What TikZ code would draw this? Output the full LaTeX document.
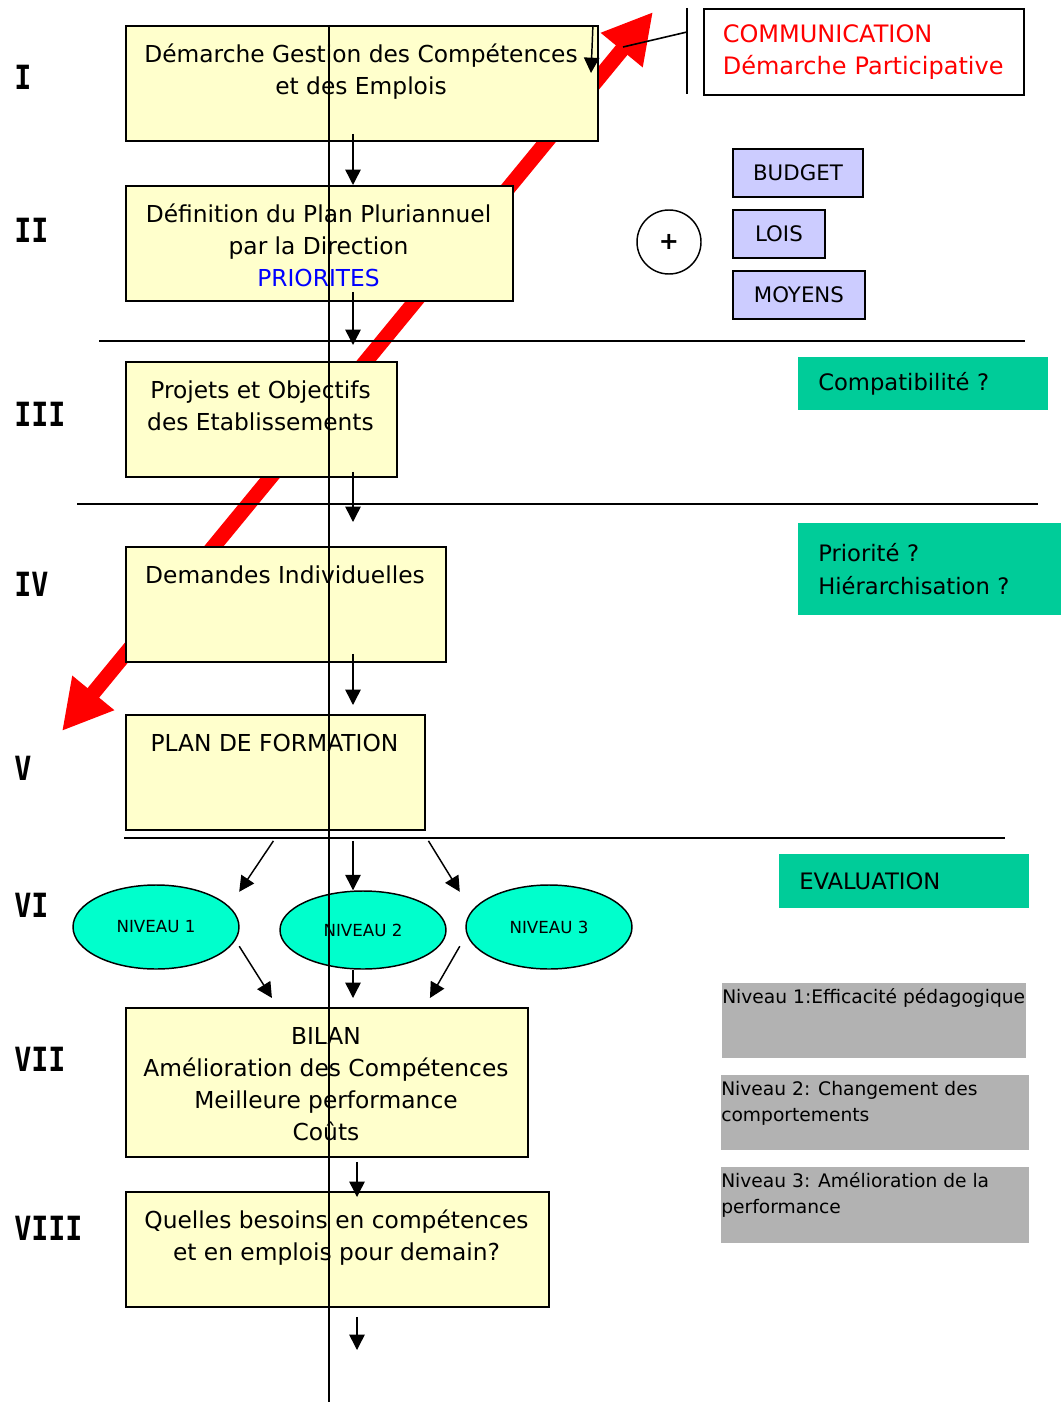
\documentclass[tikz,border=0pt]{standalone}
\usepackage{fontspec}
\setmainfont{DejaVu Sans}
\newfontfamily\numfont{DejaVu Sans Mono}[FakeStretch=0.85]
\usepackage{xcolor}
\usetikzlibrary{arrows.meta,shapes.geometric,calc}

\definecolor{boxyellow}{HTML}{FFFFCC}
\definecolor{lavbox}{HTML}{CCCCFF}
\definecolor{nivaqua}{HTML}{00FFCC}
\definecolor{evalgreen}{HTML}{00CC99}
\definecolor{evalgray}{HTML}{B2B2B2}

\newdimen\upx
\upx=0.75pt
\newcommand{\tp}{\rule{0pt}{17pt}}
\newcommand{\gp}{\rule{0pt}{13.5pt}}

\begin{document}
\begin{tikzpicture}[x=0.75pt, y=-0.75pt,
        ybox/.style={draw=black, fill=boxyellow, line width=1.4pt, anchor=north west, inner sep=0pt},
        ytxt/.style={font=\fontsize{17.5}{24}\selectfont, align=center, inner sep=0pt, anchor=north},
        num/.style={font=\numfont\fontsize{25}{28}\selectfont\bfseries, anchor=west, inner sep=0pt},
        niv/.style={ellipse, draw=black, line width=1.1pt, fill=nivaqua, minimum width=166\upx, minimum height=84\upx, inner sep=0pt, font=\fontsize{12.5}{15}\selectfont},
        lav/.style={draw=black, fill=lavbox, line width=1.4pt, anchor=north west, inner sep=0pt, minimum height=48\upx, font=\fontsize{16}{19}\selectfont},
        gbox/.style={fill=evalgreen, anchor=north west, align=left, inner xsep=20\upx, inner ysep=0pt, font=\fontsize{17}{24.5}\selectfont},
        grey/.style={fill=evalgray, anchor=north west, inner sep=0pt, minimum height=75\upx},
        gtxt/.style={anchor=north west, align=left, inner sep=0pt, font=\fontsize{14}{19.5}\selectfont},
        arr/.style={-{Triangle[length=11.5pt, width=11.5pt]}, line width=1.1pt},
        redarr/.style={{Triangle[length=37pt, width=38pt]}-{Triangle[length=37pt, width=38pt]}, red, line width=11.25pt},
        sep/.style={line width=1.3pt}]
        \useasboundingbox (0,0) rectangle (1061,1402);

        % red arrow behind the boxes
        \coordinate (rlow) at (62,731);
        \coordinate (rhigh) at (653,12);
        \draw[redarr] (rlow) -- (rhigh);

        % separators
        \draw[sep] (99,341) -- (1025,341);
        \draw[sep] (77,504) -- (1038,504);
        \draw[sep] (124,838) -- (1005,838);

        % levels
        \node[num] (n1) at (14,77) {I};
        \node[num] (n2) at (14,230) {II};
        \node[num] (n3) at (14,414) {III};
        \node[num] (n4) at (14,584) {IV};
        \node[num] (n5) at (14,768) {V};
        \node[num] (n6) at (14,905) {VI};
        \node[num] (n7) at (14,1059) {VII};
        \node[num] (n8) at (14,1228) {VIII};

        % main boxes
        \node[ybox, minimum width=472\upx, minimum height=115\upx] (gdc) at (125,25) {};
        \node[ytxt] (gdct) at (361,40) {\tp Démarche Gestion des Compétences\\et des Emplois};
        \node[ybox, minimum width=387\upx, minimum height=115\upx] (def) at (125,185) {};
        \node[ytxt] (deft) at (318.5,200) {\tp Définition du Plan Pluriannuel\\par la Direction\\\textcolor{blue}{PRIORITES}};
        \node[ybox, minimum width=271\upx, minimum height=115\upx] (proj) at (125,361) {};
        \node[ytxt] (projt) at (260.5,376) {\tp Projets et Objectifs\\des Etablissements};
        \node[ybox, minimum width=320\upx, minimum height=115\upx] (dem) at (125,546) {};
        \node[ytxt] (demt) at (285,561) {\tp Demandes Individuelles};
        \node[ybox, minimum width=299\upx, minimum height=115\upx] (form) at (125,714) {};
        \node[ytxt] (formt) at (274.5,729) {\tp PLAN DE FORMATION};
        \node[ybox, minimum width=402\upx, minimum height=149\upx] (bilan) at (125,1007) {};
        \node[ytxt] (bilant) at (326,1022) {\tp BILAN\\Amélioration des Compétences\\Meilleure performance\\Coûts};
        \node[ybox, minimum width=423\upx, minimum height=115\upx] (bes) at (125,1191) {};
        \node[ytxt] (best) at (336.5,1206) {\tp Quelles besoins en compétences\\et en emplois pour demain?};

        % evaluation levels
        \node[niv] (niv1) at (156,927) {NIVEAU 1};
        \node[niv, minimum height=78\upx] (niv2) at (363,930) {NIVEAU 2};
        \node[niv] (niv3) at (549,927) {NIVEAU 3};

        % right column
        \node[draw=black, line width=1.2pt, fill=white, anchor=north west, align=left, text=red,
              text width=282\upx, inner xsep=19\upx, inner ysep=0pt, minimum height=86\upx,
              font=\fontsize{18}{24}\selectfont] (comm) at (703,8) {COMMUNICATION\\Démarche Participative};
        \node[lav, minimum width=130\upx] (budget) at (732,148) {BUDGET};
        \node[lav, minimum width=92\upx] (lois) at (732,209) {LOIS};
        \node[lav, minimum width=132\upx] (moyens) at (732,270) {MOYENS};
        \node[circle, draw=black, line width=1.1pt, minimum size=64\upx, inner sep=0pt,
              font=\fontsize{18}{20}\selectfont\bfseries] (plus) at (669,242) {+};
        \node[gbox, text width=210\upx, minimum height=53\upx] (compat) at (798,357) {Compatibilité ?};
        \node[gbox, text width=223\upx, minimum height=92\upx] (prio) at (798,523) {Priorité ?\\Hiérarchisation ?};
        \node[gbox, text width=210\upx, minimum height=54\upx] (evalu) at (779,854) {EVALUATION};
        \node[grey, minimum width=304\upx] (g1) at (722,983) {};
        \node[gtxt] (g1t) at (722,985) {\gp Niveau 1:Efficacité pédagogique};
        \node[grey, minimum width=308\upx] (g2) at (721,1075) {};
        \node[gtxt] (g2t) at (721,1077) {\gp Niveau 2: Changement des\\comportements};
        \node[grey, minimum width=308\upx, minimum height=76\upx] (g3) at (721,1167) {};
        \node[gtxt] (g3t) at (721,1169) {\gp Niveau 3: Amélioration de la\\performance};

        % callout of the red arrow
        \coordinate (cbtop) at (687,8);
        \coordinate (cbbot) at (687,94);
        \coordinate (cbmid) at (687,32);
        \coordinate (cred) at (623,47);
        \draw[line width=1.2pt] (cbtop) -- (cbbot);
        \draw[line width=1.2pt] (cred) -- (cbmid);

        % flow
        \coordinate (ax) at (353,0);
        \coordinate (bx) at (357,0);
        \coordinate (dnote) at (591,73);
        \coordinate (fin) at (357,1350);
        \draw[arr] ($(gdc.north east)+(-6,2)$) -- (dnote);
        \draw[arr] ($(gdc.south -| ax)+(0,-8)$) -- (def.north -| ax);
        \draw[arr] ($(def.south -| ax)+(0,-10)$) -- ($(proj.north -| ax)+(0,-16)$);
        \draw[arr] ($(proj.south -| ax)+(0,-6)$) -- ($(dem.north -| ax)+(0,-24)$);
        \draw[arr] ($(dem.south -| ax)+(0,-9)$) -- ($(form.north -| ax)+(0,-9)$);
        \draw[arr] ($(form.south)+(-2,10)$) -- ($(niv1.north east)+(24,-5)$);
        \draw[arr] ($(form.south -| ax)+(0,10)$) -- (niv2.north -| ax);
        \draw[arr] ($(form.south)+(153,10)$) -- ($(niv3.north west)+(-30,-5)$);
        \draw[arr] ($(niv1.south east)+(24,-11)$) -- ($(bilan.north)+(-55,-9)$);
        \draw[arr] (niv2.south -| ax) -- ($(bilan.north -| ax)+(0,-9)$);
        \draw[arr] ($(niv3.south west)+(-30,-11)$) -- ($(bilan.north)+(103,-9)$);
        \draw[arr] ($(bilan.south -| bx)+(0,4)$) -- ($(bes.north -| bx)+(0,6)$);
        \draw[arr] ($(bes.south -| bx)+(0,9)$) -- (fin);

        % axis through the boxes
        \coordinate (atop) at (329,25);
        \coordinate (abot) at (329,1402);
        \draw[line width=1.5pt] (atop) -- (abot);
\end{tikzpicture}
\end{document}
